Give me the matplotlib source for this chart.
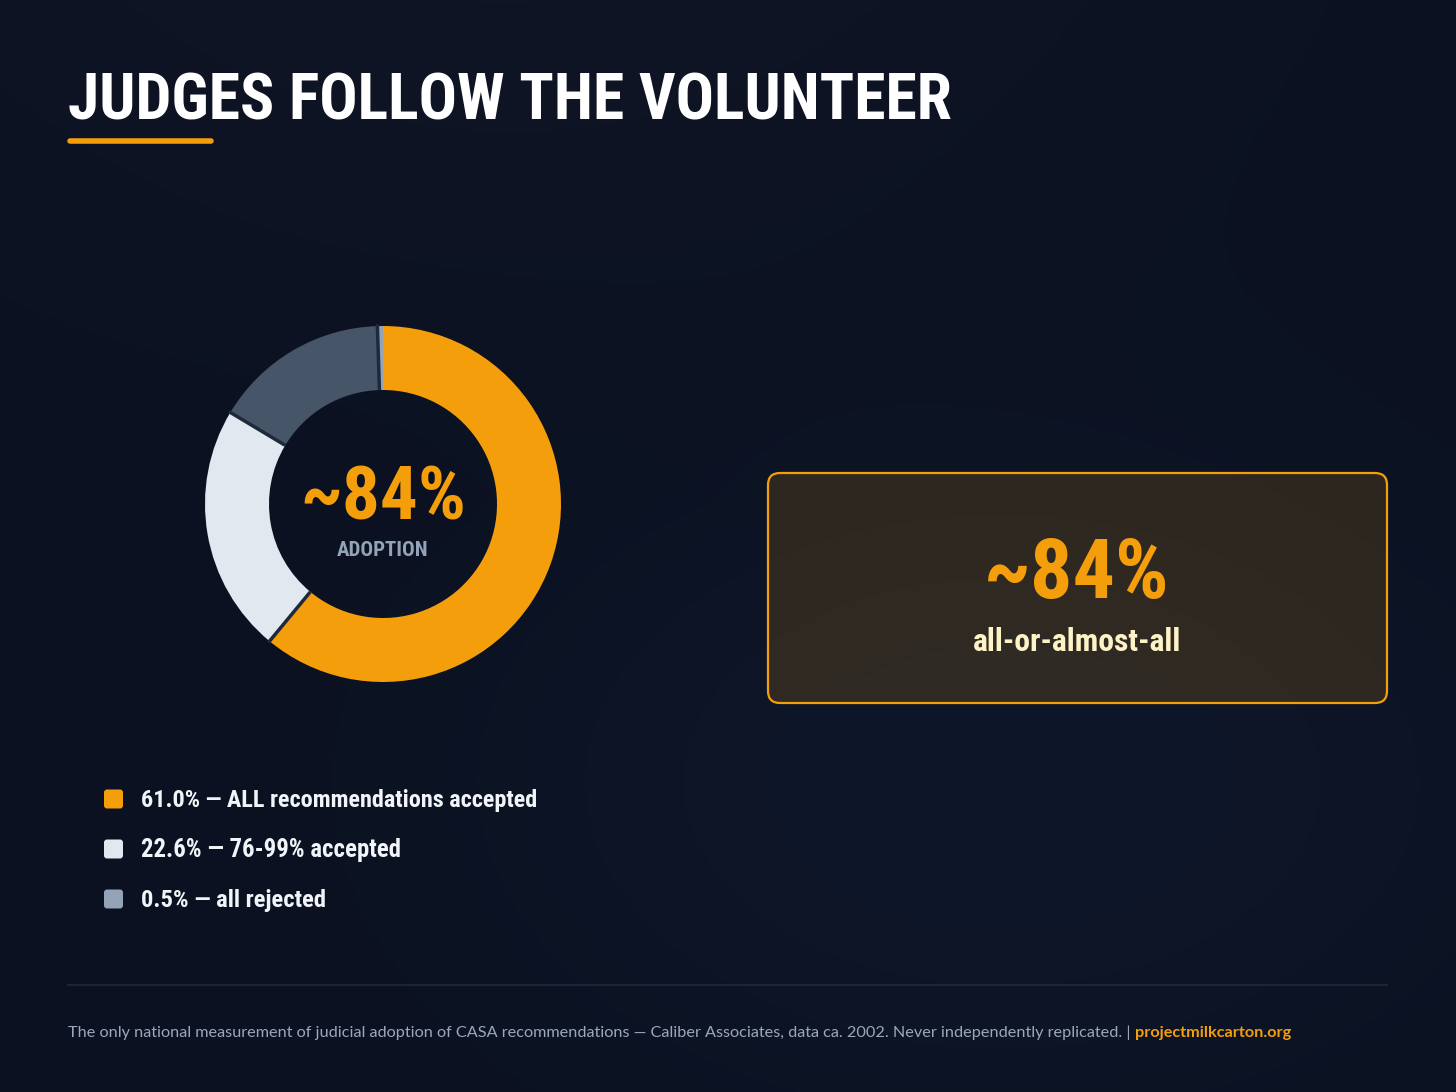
"""Donut chart: how often judges adopt CASA volunteer recommendations."""
import matplotlib

matplotlib.use("Agg")
import matplotlib.pyplot as plt
import numpy as np
from matplotlib import font_manager as fm
from matplotlib.patches import FancyBboxPatch

# --- data -------------------------------------------------------------------
slice_labels = ["ALL recommendations accepted", "76-99% accepted", "other", "all rejected"]
slice_shares = [61.0, 22.6, 15.9, 0.5]
slice_colors = ["#F59E0B", "#E2E8F0", "#475569", "#94A3B8"]
legend_items = [0, 1, 3]  # slices that get a legend row

title = "JUDGES FOLLOW THE VOLUNTEER"
center_caption = "ADOPTION"
callout_caption = "all-or-almost-all"
footer = ("The only national measurement of judicial adoption of CASA recommendations "
          "\u2014 Caliber Associates, data ca. 2002. Never independently replicated. |")
footer_link = "projectmilkcarton.org"

adoption = slice_shares[0] + slice_shares[1]
adoption_label = f"~{round(adoption)}%"

# --- fonts ------------------------------------------------------------------
installed = {f.name for f in fm.fontManager.ttflist}
COND = next((n for n in ["Roboto Condensed", "Liberation Sans Narrow", "DejaVu Sans"]
             if n in installed), "DejaVu Sans")
BODY = next((n for n in ["Lato", "Roboto", "Inter", "DejaVu Sans"] if n in installed), "DejaVu Sans")
cond = dict(family=COND, fontstretch="condensed")

BG = "#0b1120"
ORANGE = "#F59E0B"

W, H = 1456, 1092
fig = plt.figure(figsize=(W / 100, H / 100), dpi=100)
ax = fig.add_axes([0, 0, 1, 1])
ax.set_xlim(0, W)
ax.set_ylim(H, 0)
ax.axis("off")

# subtle background gradient
yy, xx = np.mgrid[0:H:4, 0:W:4]
base = np.array([11, 17, 32]) / 255
glow = np.exp(-(((xx - 1000) / 500) ** 2 + ((yy - 780) / 320) ** 2))
top = np.clip(1 - yy / 500, 0, 1) * np.exp(-((xx - 500) / 700) ** 2)
img = base + glow[..., None] * np.array([3, 6, 10]) / 255 + top[..., None] * np.array([4, 4, 4]) / 255
ax.imshow(img, extent=(0, W, H, 0), aspect="auto", zorder=0)

renderer = fig.canvas.get_renderer()


def fit_width(t, width_px):
    w = t.get_window_extent(renderer).width
    t.set_fontsize(t.get_fontsize() * width_px / w)
    return t


# title + underline
t = ax.text(68, 120, title, color="white", fontsize=50, fontweight="heavy",
            va="baseline", ha="left", **cond)
fit_width(t, 885)
ax.plot([70, 211], [141, 141], color=ORANGE, lw=4, solid_capstyle="round")

# donut
cx, cy, R, r = 383, 504, 178, 114
dax = fig.add_axes([(cx - R) / W, 1 - (cy + R) / H, 2 * R / W, 2 * R / H])
dax.pie(slice_shares, colors=slice_colors, startangle=90, counterclock=False,
        radius=1, wedgeprops=dict(width=(R - r) / R, edgecolor="none"))
# thin dark separators between the slices (none at the top start)
bounds = np.cumsum(slice_shares[:-1]) / sum(slice_shares)
for b in bounds:
    ang = np.pi / 2 - 2 * np.pi * b
    dax.plot([r / R * np.cos(ang), 1.01 * np.cos(ang)], [r / R * np.sin(ang), 1.01 * np.sin(ang)],
             color="#1e293b", lw=2.5, solid_capstyle="butt", clip_on=False)
dax.set_xlim(-1, 1)
dax.set_ylim(-1, 1)
dax.set_aspect("equal")
dax.axis("off")
for p in dax.patches:
    p.set_clip_on(False)

t = ax.text(cx, 520, adoption_label, color=ORANGE, fontsize=50, fontweight="bold",
            ha="center", va="baseline", **cond)
fit_width(t, 166)
ax.text(cx, 556, center_caption, color="#94A3B8", fontsize=15, fontweight="bold",
        ha="center", va="baseline", **cond)

# callout box
box = FancyBboxPatch((768, 473), 619, 230, boxstyle="round,pad=0,rounding_size=12",
                     facecolor=ORANGE, alpha=0.15, edgecolor="none", zorder=2)
ax.add_patch(box)
ax.add_patch(FancyBboxPatch((768, 473), 619, 230, boxstyle="round,pad=0,rounding_size=12",
                            facecolor="none", edgecolor=ORANGE, linewidth=1.6, zorder=3))
t = ax.text(1077, 598, adoption_label, color=ORANGE, fontsize=55, fontweight="bold",
            ha="center", va="baseline", zorder=4, **cond)
fit_width(t, 186)
t = ax.text(1077, 651, callout_caption, color="#FEF3C7", fontsize=22, fontweight="bold",
            ha="center", va="baseline", zorder=4, **cond)
fit_width(t, 209)

# legend
legend_widths = [396, 260, 185]
for row, (i, wpx) in enumerate(zip(legend_items, legend_widths)):
    y = 799 + row * 50
    ax.add_patch(FancyBboxPatch((104, y - 9.5), 19, 19, boxstyle="round,pad=0,rounding_size=3",
                                facecolor=slice_colors[i], edgecolor="none", zorder=3))
    t = ax.text(141, y + 8, f"{slice_shares[i]:.1f}% \u2014 {slice_labels[i]}",
                color="#F1F5F9", fontsize=17, fontweight="bold", ha="left",
                va="baseline", **cond)
    fit_width(t, wpx)

# footer
ax.plot([68, 1387], [985, 985], color="#1e293b", lw=1.2)
t = ax.text(68, 1037, footer, color="#9AA8BC", fontsize=11, ha="left", va="baseline",
            family=BODY)
fit_width(t, 1066)
x_end = ax.transData.inverted().transform(
    (t.get_window_extent(renderer).x1, 0))[0]
ax.text(x_end + 5, 1037, footer_link, color=ORANGE, fontsize=t.get_fontsize(),
        fontweight="bold", ha="left", va="baseline", family=BODY)

fig.savefig("out.png", dpi=100, facecolor=BG)
